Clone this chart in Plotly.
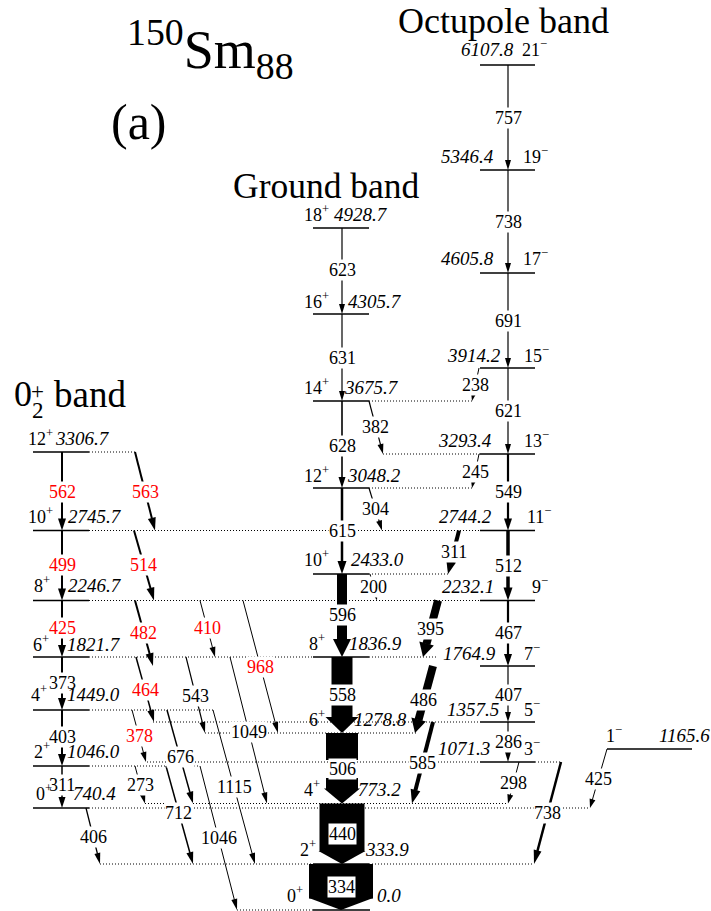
import math
import plotly.graph_objects as go

FONT = "Liberation Serif, Times New Roman, serif"

# ---------------- data ----------------
gsb_spins = ["0+", "2+", "4+", "6+", "8+", "10+", "12+", "14+", "16+", "18+"]
gsb_energies = [0.0, 333.9, 773.2, 1278.8, 1836.9, 2433.0, 3048.2, 3675.7, 4305.7, 4928.7]
oct_spins = ["1-", "3-", "5-", "7-", "9-", "11-", "13-", "15-", "17-", "19-", "21-"]
oct_energies = [1165.6, 1071.3, 1357.5, 1764.9, 2232.1, 2744.2, 3293.4, 3914.2, 4605.8, 5346.4, 6107.8]
b02_spins = ["0+", "2+", "4+", "6+", "8+", "10+", "12+"]
b02_energies = [740.4, 1046.0, 1449.0, 1821.7, 2246.7, 2745.7, 3306.7]

gamma_labels = ["623", "631", "628", "615", "596", "558", "506", "440", "334",
                "757", "738", "691", "621", "549", "512", "467", "407", "286",
                "562", "499", "425", "373", "403", "311",
                "238", "245", "311", "395", "486", "585", "298", "738", "425",
                "382", "304", "200",
                "563", "514", "482", "464", "378", "273", "406",
                "410", "543", "968", "1049", "676", "712", "1046", "1115"]
gamma_from = ["g4928.7", "g4305.7", "g3675.7", "g3048.2", "g2433.0", "g1836.9", "g1278.8", "g773.2", "g333.9",
              "o6107.8", "o5346.4", "o4605.8", "o3914.2", "o3293.4", "o2744.2", "o2232.1", "o1764.9", "o1357.5",
              "s3306.7", "s2745.7", "s2246.7", "s1821.7", "s1449.0", "s1046.0",
              "o3914.2", "o3293.4", "o2744.2", "o2232.1", "o1764.9", "o1357.5", "o1071.3", "o1071.3", "o1165.6",
              "g3675.7", "g3048.2", "g2433.0",
              "s3306.7", "s2745.7", "s2246.7", "s1821.7", "s1449.0", "s1046.0", "s740.4",
              "s2246.7", "s1821.7", "s2246.7", "s1821.7", "s1449.0", "s1046.0", "s1046.0", "s1449.0"]
gamma_to = ["g4305.7", "g3675.7", "g3048.2", "g2433.0", "g1836.9", "g1278.8", "g773.2", "g333.9", "g0.0",
            "o5346.4", "o4605.8", "o3914.2", "o3293.4", "o2744.2", "o2232.1", "o1764.9", "o1357.5", "o1071.3",
            "s2745.7", "s2246.7", "s1821.7", "s1449.0", "s1046.0", "s740.4",
            "g3675.7", "g3048.2", "g2433.0", "g1836.9", "g1278.8", "g773.2", "g773.2", "g333.9", "s740.4",
            "o3293.4", "o2744.2", "o2232.1",
            "o2744.2", "o2232.1", "o1764.9", "o1357.5", "o1071.3", "g773.2", "g333.9",
            "g1836.9", "g1278.8", "g1278.8", "g773.2", "g773.2", "g333.9", "g0.0", "g333.9"]
# newly observed transitions (drawn with red labels): (label, initial level)
gamma_new = [("562", "s3306.7"), ("499", "s2745.7"), ("425", "s2246.7"), ("563", "s3306.7"),
             ("514", "s2745.7"), ("482", "s2246.7"), ("464", "s1821.7"), ("378", "s1449.0"),
             ("410", "s2246.7"), ("968", "s2246.7")]

# ---------------- drawing layout (positions / sizes / styles) ----------------
# level: y, solid segment, dotted segments, spin label centre (x, y), energy label centre (x, y)
lvl_geom = {
    "g0.0":    (910, (313, 370), [(237, 313)], (294.5, 899), (389, 899)),
    "g333.9":  (864, (313, 369), [(100, 313), (369, 534)], (307.5, 853), (386.5, 853)),
    "g773.2":  (803.5, None, [(145, 508)], (311.5, 793), (379, 793)),
    "g1278.8": (733, None, [(205, 416)], (317, 723), (380, 723)),
    "g1836.9": (657, (313, 369), [(369, 438)], (317, 647), (375.5, 647)),
    "g2433.0": (574, (313, 369), [(369, 450)], (316.5, 563), (377.5, 563)),
    "g3048.2": (488, (313, 369), [(369, 472)], (316.5, 479), (374, 479)),
    "g3675.7": (401, (313, 369), [(369, 472)], (316.5, 391), (371.5, 391)),
    "g4305.7": (314, (313, 369), [], (316.5, 305), (375, 305)),
    "g4928.7": (228, (313, 369), [], (316.5, 218), (361, 218)),
    "o1165.6": (749, (607, 692), [], (613.5, 739), (684, 739)),
    "o1071.3": (762, (480, 535), [(147, 480), (535, 562)], (531.5, 752), (464, 752)),
    "o1357.5": (722, (480, 535), [(153, 480)], (531.5, 713), (472.5, 713)),
    "o1764.9": (666, (480, 535), [], (531.5, 657), (469, 657)),
    "o2232.1": (600.5, (480, 535), [(313, 480)], (540, 590), (468, 590)),
    "o2744.2": (530.5, (480, 535), [(313, 480)], (538.5, 520), (465, 520)),
    "o3293.4": (454, (480, 535), [(383, 480)], (536.5, 444), (465, 444)),
    "o3914.2": (368, (480, 535), [], (536.5, 359), (474, 359)),
    "o4605.8": (273, (480, 535), [], (535.5, 262), (467, 262)),
    "o5346.4": (170, (480, 535), [], (535.5, 160), (467.5, 160)),
    "o6107.8": (65, (480, 535), [], (534.5, 53), (487.5, 53)),
    "s740.4":  (808, (33, 89), [(89, 590)], (44, 797), (94, 797)),
    "s1046.0": (766, (33, 89), [(89, 200)], (41.5, 755), (93, 755)),
    "s1449.0": (710, (33, 89), [(89, 213)], (38.5, 698), (93.5, 698)),
    "s1821.7": (657, (33, 89), [(89, 313)], (41, 648), (93.5, 648)),
    "s2246.7": (600.5, (33, 89), [(89, 313)], (41.5, 589), (95, 589)),
    "s2745.7": (530.5, (33, 89), [(89, 313)], (40.5, 520), (95, 520)),
    "s3306.7": (452, (33, 89), [(89, 135)], (40.5, 442), (82.5, 442)),
}

# transition: x start, x end, body width, head width, head length, label y, boxed label
tr_geom = [
    (342, 342, 1.2, 6, 10, 270, False), (342, 342, 1.2, 6, 10, 358, False),
    (342, 342, 1.6, 7, 11, 446, False), (342, 342, 2.5, 9, 13, 531, False),
    (342, 342, 10, 18, 18, 615, False), (342, 342, 21, 33, 16, 695, False),
    (342, 342, 32, 36, 15, 769, False), (342, 342, 45, 47, 13, 834, True),
    (341, 341, 64, 64, 12, 887, True),
    (508, 508, 1.2, 6, 10, 118, False), (508, 508, 1.2, 6, 10, 222, False),
    (508, 508, 1.2, 6, 10, 321, False), (508, 508, 1.2, 6, 10, 411, False),
    (508, 508, 2.2, 8, 12, 492, False), (508, 508, 3.5, 9, 13, 566, False),
    (508, 508, 2.2, 8, 12, 633, False), (508, 508, 1.2, 6, 10, 695, False),
    (508, 508, 1.2, 6, 10, 742, False),
    (62, 62, 2, 8, 12, 492, False), (62, 62, 2, 8, 12, 565, False),
    (62, 62, 2, 8, 12, 628, False), (62, 62, 2, 8, 12, 683, False),
    (62, 62, 2, 8, 12, 737, False), (62, 62, 1.5, 7, 11, 785, False),
    (479, 472, 1, 6, 9, 385, False), (479, 472, 1, 6, 9, 472, False),
    (459, 448, 4, 10, 13, 552, False), (438, 423, 8, 15, 14, 629, False),
    (433, 415, 8, 15, 14, 700, False), (433, 412, 4, 10, 14, 763, False),
    (519, 508, 1, 6, 9, 783, False), (561, 534, 2.5, 8, 14, 813, False),
    (607, 590, 1, 6, 9, 779, False),
    (369, 383, 1.2, 6, 10, 427, False), (369, 382, 1.2, 6, 10, 509, False),
    (370, 377, 1, 5, 8, 587, False),
    (135, 155, 2, 8, 13, 492, False), (134, 154, 2, 8, 13, 565, False),
    (135, 153, 2, 8, 13, 633, False), (136, 154, 1.5, 7, 12, 690, False),
    (132, 146, 1, 6, 10, 736, False), (135, 145, 1, 6, 10, 785, False),
    (86, 100, 1.3, 6, 11, 837, False),
    (200, 215, 1, 6, 10, 628, False), (186, 205, 1.2, 6, 11, 696, False),
    (243, 278, 1, 6, 11, 667, False), (230, 267, 1, 6, 11, 732, False),
    (167, 193, 1.5, 7, 12, 757, False), (166, 193, 1.5, 7, 12, 813, False),
    (200, 237, 1, 6, 11, 838, False), (213, 255, 1, 6, 11, 787, False),
]

LABEL_SIZE = 18
ENERGY_SIZE = 19
GAP = 9
TR_DY = 0.0
LV_DY = -4.5

# ---------------- build ----------------
levels = {}
for band, spins, ens in (("g", gsb_spins, gsb_energies), ("o", oct_spins, oct_energies),
                         ("s", b02_spins, b02_energies)):
    for s, e in zip(spins, ens):
        levels[f"{band}{e:.1f}"] = (s, e)

shapes = []
annots = []


def add_line(x0, y0, x1, y1, w, dash=None):
    shapes.append(dict(type="line", xref="x", yref="y", x0=x0, y0=y0, x1=x1, y1=y1,
                       line=dict(color="black", width=w, dash=dash), layer="above"))


def add_poly(pts):
    path = "M " + " L ".join(f"{x:.2f},{y:.2f}" for x, y in pts) + " Z"
    shapes.append(dict(type="path", xref="x", yref="y", path=path, fillcolor="black",
                       line=dict(width=0), layer="above"))


def spin_txt(s):
    sign = "+" if s.endswith("+") else "\u2212"
    return f"{s[:-1]}<sup>{sign}</sup>"


for key, (y, solid, dots, sp, en) in lvl_geom.items():
    for xa, xb in dots:
        add_line(xa, y, xb, y, 1, dash="1px,2px")
for key, (y, solid, dots, sp, en) in lvl_geom.items():
    if solid:
        add_line(solid[0], y, solid[1], y, 1.3)

for i, lab in enumerate(gamma_labels):
    x0, x1, w, hw, hl, ly, boxed = tr_geom[i]
    y0 = lvl_geom[gamma_from[i]][0]
    y1 = lvl_geom[gamma_to[i]][0]
    dx, dy = x1 - x0, y1 - y0
    L = math.hypot(dx, dy)
    ux, uy = dx / L, dy / L
    nx, ny = -uy, ux
    Lb = L - hl
    tl = (ly - y0) / dy * L
    segs = [(0, Lb + 0.6)] if boxed else [(0, tl - GAP), (tl + GAP, Lb + 0.6)]
    for a, b in segs:
        if b <= a:
            continue
        pa = (x0 + ux * a, y0 + uy * a)
        pb = (x0 + ux * b, y0 + uy * b)
        if w <= 2.6:
            add_line(pa[0], pa[1], pb[0], pb[1], w)
        else:
            h = w / 2
            add_poly([(pa[0] + nx * h, pa[1] + ny * h), (pb[0] + nx * h, pb[1] + ny * h),
                      (pb[0] - nx * h, pb[1] - ny * h), (pa[0] - nx * h, pa[1] - ny * h)])
    bx, by = x1 - ux * hl, y1 - uy * hl
    add_poly([(bx + nx * hw / 2, by + ny * hw / 2), (x1, y1), (bx - nx * hw / 2, by - ny * hw / 2)])
    lx = x0 + (ly - y0) / dy * dx
    is_new = (lab, gamma_from[i]) in gamma_new
    annots.append(dict(x=lx, y=ly + TR_DY, xref="x", yref="y", text=lab, showarrow=False,
                       font=dict(family=FONT, size=LABEL_SIZE, color="#ff0000" if is_new else "black"),
                       bgcolor="white", borderpad=0, xanchor="center", yanchor="middle"))

for key, (y, solid, dots, sp, en) in lvl_geom.items():
    s, e = levels[key]
    annots.append(dict(x=sp[0], y=sp[1] + LV_DY, xref="x", yref="y", text=spin_txt(s), showarrow=False,
                       font=dict(family=FONT, size=LABEL_SIZE, color="black"),
                       xanchor="center", yanchor="middle"))
    annots.append(dict(x=en[0], y=en[1] + LV_DY + 1, xref="x", yref="y", text=f"<i>{e:.1f}</i>",
                       showarrow=False, font=dict(family=FONT, size=ENERGY_SIZE, color="black"),
                       xanchor="center", yanchor="middle"))

titles = [
    ("<sup>150</sup>Sm<sub>88</sub>", 210, 49, 54),
    ("(a)", 138.5, 122, 50),
    ("Ground band", 326.5, 186, 35.5),
    ("Octupole band", 503, 21, 36),
    ("0", 22.5, 394, 36),
    ("2", 38, 410, 23),
    ("+", 37.5, 391, 23),
    ("band", 90, 394, 37),
]
for txt, x, y, size in titles:
    annots.append(dict(x=x, y=y, xref="x", yref="y", text=txt, showarrow=False,
                       font=dict(family=FONT, size=size, color="black"),
                       xanchor="center", yanchor="middle"))

fig = go.Figure()
fig.add_trace(go.Scatter(x=[0], y=[0], mode="markers", marker=dict(opacity=0), hoverinfo="skip",
                         showlegend=False))
fig.update_layout(width=711, height=911, margin=dict(l=0, r=0, t=0, b=0),
                  xaxis=dict(range=[0, 711], visible=False, fixedrange=True),
                  yaxis=dict(range=[911, 0], visible=False, fixedrange=True),
                  plot_bgcolor="white", paper_bgcolor="white",
                  shapes=shapes, annotations=annots, showlegend=False)
fig.write_html("out.html", config={"displayModeBar": False, "staticPlot": True},
               post_script="document.body.style.margin='0';")
